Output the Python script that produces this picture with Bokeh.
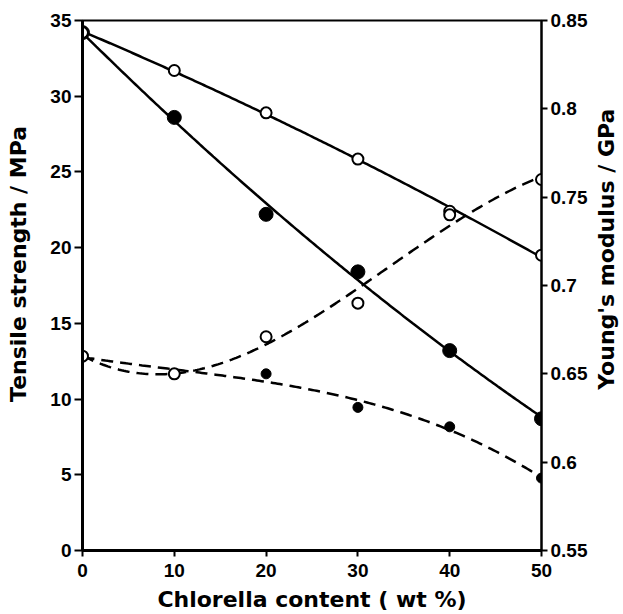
import numpy as np
from bokeh.plotting import figure
from bokeh.layouts import row
from bokeh.models import Range1d, LinearAxis, FixedTicker, CustomJSTickFormatter
from bokeh.core.properties import value
from bokeh.embed import file_html
from bokeh.resources import INLINE

# Chlorella content (wt %)
content = [0, 10, 20, 30, 40, 50]

# Tensile strength (MPa)
ts_filled = [34.2, 28.6, 22.2, 18.4, 13.2, 8.7]
ts_open = [34.2, 31.7, 28.9, 25.85, 22.4, 19.5]

# Young's modulus (GPa)
ym_filled = [0.660, 0.650, 0.650, 0.631, 0.620, 0.591]
ym_open = [0.660, 0.650, 0.671, 0.690, 0.740, 0.760]

x_ticks = [0, 10, 20, 30, 40, 50]
ts_ticks = [0, 5, 10, 15, 20, 25, 30, 35]
ym_ticks = [0.55, 0.6, 0.65, 0.7, 0.75, 0.8, 0.85]

TICK_FONT = "Liberation Sans"
LABEL_FONT = "DejaVu Sans"
H = 614
SIDE_W = 32

p = figure(width=623 - 2 * SIDE_W, height=H, output_backend="svg",
           toolbar_location=None,
           x_range=Range1d(0, 50), y_range=Range1d(0, 35),
           min_border_left=82 - SIDE_W, min_border_right=82 - SIDE_W,
           min_border_top=20, min_border_bottom=62)
p.extra_y_ranges = {"ym": Range1d(0.55, 0.85)}
p.grid.visible = False
p.background_fill_color = "white"
p.border_fill_color = "white"
p.outline_line_color = "black"
p.outline_line_width = 2

def style_axis(ax, lw):
    ax.axis_line_width = lw
    ax.axis_line_color = "black"
    ax.major_tick_line_width = 2
    ax.major_tick_out = 7
    ax.major_tick_in = 0
    ax.minor_tick_line_color = None
    ax.major_label_text_font = TICK_FONT
    ax.major_label_text_font_style = "bold"
    ax.major_label_text_font_size = "19px"
    ax.major_label_text_color = "black"
    ax.axis_label_text_font = LABEL_FONT
    ax.axis_label_text_font_style = "bold"
    ax.axis_label_text_font_size = "22px"
    ax.axis_label_text_color = "black"

xa = p.xaxis[0]
xa.ticker = FixedTicker(ticks=x_ticks)
xa.axis_label = "Chlorella content ( wt %)"
style_axis(xa, 3)
xa.major_tick_out = 6
xa.major_label_standoff = 7
xa.axis_label_standoff = 7

ya = p.yaxis[0]
ya.ticker = FixedTicker(ticks=ts_ticks)
style_axis(ya, 3)
ya.major_tick_out = 8
ya.major_label_standoff = 3

yr = LinearAxis(y_range_name="ym")
yr.ticker = FixedTicker(ticks=ym_ticks)
yr.formatter = CustomJSTickFormatter(code="return tick.toFixed(2).replace(/0$/, '');")
style_axis(yr, 2)
yr.major_tick_out = 6
yr.major_label_standoff = 3
p.add_layout(yr, "right")

xs = np.linspace(0, 50, 201)
cx = np.array(content, dtype=float)

# smooth trend curves fitted through the measured points
fit_ts_f = np.polyval(np.polyfit(cx, ts_filled, 2), xs)
fit_ts_o = np.polyval(np.polyfit(cx, ts_open, 2), xs)
fit_ym_f = np.polyval(np.polyfit(cx, ym_filled, 3), xs)
fit_ym_o = np.polyval(np.polyfit(cx, ym_open, 3), xs)

p.line(xs, fit_ts_f, line_color="black", line_width=2.5)
p.line(xs, fit_ts_o, line_color="black", line_width=2.5)
p.line(xs, fit_ym_f, line_color="black", line_width=2.5, line_dash="12 7",
       y_range_name="ym")
p.line(xs, fit_ym_o, line_color="black", line_width=2.5, line_dash="12 7",
       y_range_name="ym")

p.scatter(content, ts_filled, size=14, marker="circle", fill_color="black",
          line_color="black")
p.scatter(content, ym_filled, size=10, marker="circle", fill_color="black",
          line_color="black", y_range_name="ym")
p.scatter(content, ts_open, size=11, marker="circle", fill_color="white",
          line_color="black", line_width=2)
p.scatter(content, ym_open, size=11, marker="circle", fill_color="white",
          line_color="black", line_width=2, y_range_name="ym")


def title_strip(text, cx_px, cy_px):
    """Narrow side panel carrying a vertical axis title (reads bottom-to-top)."""
    s = figure(width=SIDE_W, height=H, output_backend="svg",
               toolbar_location=None, x_axis_location=None,
               y_axis_location=None, x_range=Range1d(0, SIDE_W),
               y_range=Range1d(0, H), min_border=0)
    s.grid.visible = False
    s.outline_line_color = None
    s.background_fill_color = "white"
    s.border_fill_color = "white"
    s.text(x=[cx_px], y=[H - cy_px], text=[text], angle=np.pi / 2,
           text_align="center", text_baseline="middle",
           text_font=value(LABEL_FONT), text_font_style="bold",
           text_font_size="22px", text_color="black")
    return s


left_title = title_strip("Tensile strength / MPa", 18, 282)
right_title = title_strip("Young's modulus / GPa", 15, 265)

layout = row(left_title, p, right_title, spacing=0)
open("out.html", "w").write(file_html(layout, INLINE))
